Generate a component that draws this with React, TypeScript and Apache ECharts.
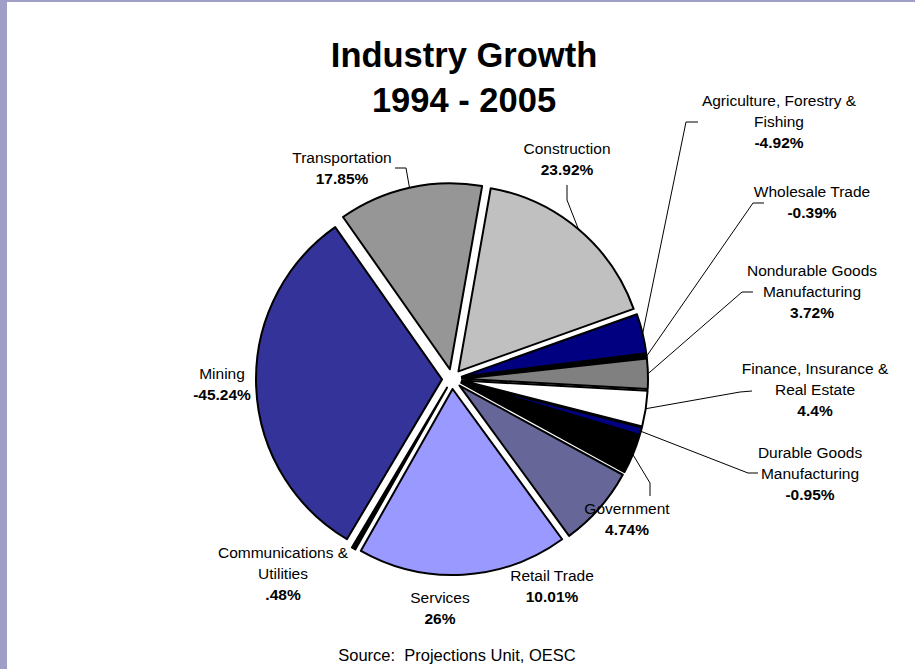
import React, { useEffect, useRef } from 'react';
import * as echarts from 'echarts';

// ---- data ----
const categories = [
  'Construction',
  'Agriculture, Forestry &\nFishing',
  'Wholesale Trade',
  'Nondurable Goods\nManufacturing',
  'Finance, Insurance &\nReal Estate',
  'Durable Goods\nManufacturing',
  'Government',
  'Retail Trade',
  'Services',
  'Communications &\nUtilities',
  'Mining',
  'Transportation',
];
const growthValues = [23.92, -4.92, -0.39, 3.72, 4.4, -0.95, 4.74, 10.01, 26, 0.48, -45.24, 17.85];

// ---- styles / layout ----
const sliceColors = ['#C0C0C0', '#000080', '#000000', '#808080', '#FFFFFF', '#000080', '#000000', '#666699', '#9999FF', '#000000', '#333399', '#969696'];
const labelCenters: number[][] = [
  [567, 159], [779, 121.5], [812, 201.5], [812, 291], [815, 389.5], [810, 473.5],
  [627, 519], [552, 586], [440, 607.5], [283, 573.5], [222, 383.5], [342, 167.5],
];
// [bend point, label end point]
const leaderLines: (number[][] | null)[] = [
  [[567, 200], [567, 185]],
  [[686, 122], [698, 122]],
  [[753, 203], [764, 203]],
  [[742, 292], [753, 292]],
  [[740, 392], [752, 391]],
  [[748, 473], [758, 473]],
  [[650, 483], [650, 496]],
  null, null, null, null,
  [[406, 168], [395, 168]],
];

const FONT = "'Liberation Sans', Arial, Helvetica, sans-serif";
const CENTER = [452, 379];
const RADIUS = 186;
const OFFSET = 10;
const START = 80;

const fmt = (v: number) => String(v).replace(/^0\./, '.') + '%';

export default function App() {
  const ref = useRef<HTMLDivElement>(null);
  useEffect(() => {
    if (!ref.current) return;
    const chart = echarts.init(ref.current, null, { renderer: 'svg' });
    const pieData = categories.map((name, i) => ({ name, value: Math.abs(growthValues[i]) }));
    const option: any = {
      animation: false,
      backgroundColor: '#FFFFFF',
      graphic: [
        { type: 'rect', left: 0, top: 0, shape: { x: 0, y: 0, width: 7, height: 669 }, style: { fill: '#9E9EC6' }, z: 100 },
        { type: 'rect', left: 0, top: 0, shape: { x: 0, y: 0, width: 915, height: 2 }, style: { fill: '#9E9EC6' }, z: 100 },
        {
          type: 'text', x: 464, y: 32, z: 100,
          style: {
            text: 'Industry Growth\n1994 - 2005', fill: '#000',
            fontSize: 34.5, fontWeight: 'bold', fontFamily: FONT,
            textAlign: 'center', textVerticalAlign: 'top', lineHeight: 45,
          },
        },
        {
          type: 'text', x: 457, y: 655, z: 100,
          style: {
            text: 'Source:  Projections Unit, OESC', fill: '#000',
            fontSize: 16.5, fontFamily: FONT, textAlign: 'center', textVerticalAlign: 'middle',
          },
        },
      ],
      series: [
        {
          // exploded slices
          type: 'pie',
          center: CENTER,
          radius: RADIUS,
          startAngle: START,
          clockwise: true,
          selectedMode: 'multiple',
          selectedOffset: OFFSET,
          avoidLabelOverlap: false,
          emphasis: { disabled: true },
          silent: true,
          itemStyle: { borderColor: '#000', borderWidth: 2 },
          label: { show: false },
          labelLine: { show: false },
          data: pieData.map((d, i) => ({
            ...d,
            selected: true,
            itemStyle: { color: sliceColors[i] },
            select: { itemStyle: { color: sliceColors[i], borderColor: '#000', borderWidth: 2 } },
          })),
        },
        {
          // invisible twin that carries the labels and leader lines
          type: 'pie',
          center: CENTER,
          radius: RADIUS,
          startAngle: START,
          clockwise: true,
          avoidLabelOverlap: false,
          minShowLabelAngle: 0,
          emphasis: { disabled: true },
          silent: true,
          z: 3,
          itemStyle: { color: 'rgba(0,0,0,0)', borderWidth: 0 },
          label: {
            show: true,
            position: 'outside',
            color: '#000',
            formatter: (p: any) => `{n|${p.name}}\n{v|${fmt(growthValues[p.dataIndex])}}`,
            rich: {
              n: { fontSize: 15.5, fontFamily: FONT, color: '#000', lineHeight: 21, align: 'center' },
              v: { fontSize: 15.5, fontFamily: FONT, color: '#000', lineHeight: 21, fontWeight: 'bold', align: 'center' },
            },
          },
          labelLine: { show: true, length: 10, length2: 10, smooth: false, lineStyle: { color: '#000', width: 1 } },
          labelLayout: (params: any) => {
            const i = params.dataIndex;
            const c = labelCenters[i];
            const res: any = { x: c[0], y: c[1], align: 'center', verticalAlign: 'middle' };
            const ll = leaderLines[i];
            const pts = params.labelLinePoints;
            if (ll && pts && pts.length) {
              const p0 = pts[0];
              const vx = p0[0] - CENTER[0], vy = p0[1] - CENTER[1];
              const len = Math.sqrt(vx * vx + vy * vy) || 1;
              res.labelLinePoints = [
                [p0[0] + (vx / len) * OFFSET, p0[1] + (vy / len) * OFFSET],
                [ll[0][0], ll[0][1]],
                [ll[1][0], ll[1][1]],
              ];
            }
            return res;
          },
          data: pieData.map((d, i) => ({
            ...d,
            labelLine: { show: leaderLines[i] != null },
          })),
        },
      ],
    };
    chart.setOption(option);
    return () => chart.dispose();
  }, []);
  return <div ref={ref} style={{ position: 'fixed', left: 0, top: 0, width: 915, height: 669 }} />;
}
